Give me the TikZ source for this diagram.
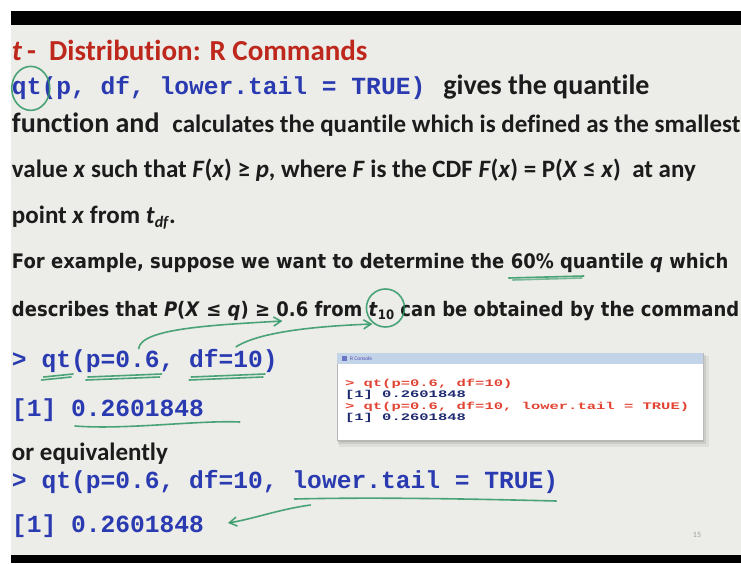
\documentclass[tikz,border=0pt]{standalone}
\usepackage{fontspec}
\setmainfont{Carlito}[Ligatures=CommonOff]
\newfontfamily\exfont[FakeStretch=0.9]{DejaVu Sans}
\newfontfamily\codefont{Liberation Mono}
\newfontfamily\consfont[FakeStretch=1.55]{Liberation Mono}
\usepackage{xcolor}
\usepackage{tikz}
\usetikzlibrary{arrows.meta,positioning}

\definecolor{slidebg}{RGB}{236,236,232}
\definecolor{titlered}{RGB}{190,40,28}
\definecolor{codeblue}{RGB}{42,58,176}
\definecolor{inkblack}{RGB}{28,28,28}
\definecolor{pengreen}{RGB}{46,150,100}
\definecolor{consred}{RGB}{226,68,52}
\definecolor{consnavy}{RGB}{32,42,112}
\definecolor{consbar}{RGB}{196,212,232}

\newcommand{\lowidx}[2][16]{\raisebox{-0.35ex}{\fontsize{#1}{#1}\selectfont #2}}
\newcommand{\exgap}{6.3pt}
\newcommand{\cw}{14.76pt}

\begin{document}
\begin{tikzpicture}[
    x=1pt, y=-1pt,
    txt/.style={anchor=base west, inner sep=0pt, outer sep=0pt, text=inkblack, font=\bfseries\fontsize{25}{25}\selectfont},
    big/.style={txt, font=\bfseries\fontsize{28}{28}\selectfont},
    ex/.style={txt, font=\exfont\bfseries\fontsize{20}{20}\selectfont},
    code/.style={anchor=base west, inner sep=0pt, outer sep=0pt, text=codeblue, font=\codefont\bfseries\fontsize{24.6}{24.6}\selectfont},
    cons/.style={anchor=base west, inner sep=0pt, outer sep=0pt, font=\consfont\bfseries\fontsize{10}{10}\selectfont},
    ink/.style={draw=pengreen, line width=1.6pt, line cap=round, opacity=0.85},
    inkarrow/.style={ink, -{Straight Barb[length=2.6mm, width=3.2mm]}}
]
\useasboundingbox (0,0) rectangle (741,563);
\fill[white] (0,0) rectangle (741,563);
\fill[slidebg] (11,11) rectangle (741,563);
\fill[black] (11,11) rectangle (741,25);
\fill[black] (11,555) rectangle (741,563);

% title and syntax
\node[big, text=titlered, font=\bfseries\fontsize{29}{29}\selectfont] (title) at (12,60) {\textit{t}\,-\ \ Distribution: R Commands};
\node[code] (cmdqt) at (12,94) {qt};
\node[code] (cmdargs) at (cmdqt.base east) {(p, df, lower.tail = TRUE)};
\node[big] (gives) at ([xshift=18pt]cmdargs.base east) {gives the quantile};

% definition
\node[big] (funcand) at (12,132) {function and};
\node[txt] (calc) at ([xshift=13pt]funcand.base east) {calculates the quantile which is defined as the smallest};
\node[txt] (valueline) at (12,177) {value \textit{x} such that \textit{F}(\textit{x}) ≥ \textit{p}, where \textit{F} is the CDF \textit{F}(\textit{x}) = P(\textit{X} ≤ \textit{x})\ \ at any};
\node[txt] (pointline) at (12,223) {point \textit{x} from \textit{t}\lowidx[16]{\textit{df}}.};

% example
\node[ex] (exA) at (12,268) {For example, suppose we want to determine the};
\node[ex] (sixty) at ([xshift=\exgap]exA.base east) {60\%};
\node[ex] (exB) at (sixty.base east) {\ quantile \textit{q} which};
\node[ex] (descA) at (12,316) {describes that \textit{P}(\textit{X} ≤ \textit{q}) ≥};
\node[ex] (sixval) at ([xshift=\exgap]descA.base east) {0.6};
\node[ex] (fromw) at (sixval.base east) {\ from};
\node[ex] (tten) at ([xshift=\exgap]fromw.base east) {\textit{t}\lowidx[13]{10}};
\node[ex] (descB) at (tten.base east) {\ can be obtained by the command};

% R commands
\node[code] (c1gt) at (12,367) {>};
\node[code] (c1qt) at ([xshift=\cw]c1gt.base east) {qt};
\node[code] (c1b) at (c1qt.base east) {(};
\node[code] (c1p) at (c1b.base east) {p=0.6};
\node[code] (c1c) at (c1p.base east) {,};
\node[code] (c1df) at ([xshift=\cw]c1c.base east) {df=10};
\node[code] (c1d) at (c1df.base east) {)};
\node[code] (resone) at (12,416) {[1] 0.2601848};
\node[txt] (equiv) at (12,460) {or equivalently};
\node[code] (c2a) at (12,488) {> qt(p=0.6, df=10,};
\node[code] (c2lt) at ([xshift=\cw]c2a.base east) {lower.tail = TRUE)};
\node[code] (restwo) at (12,532) {[1] 0.2601848};
\node[anchor=base, inner sep=0pt, text=gray!75, font=\fontsize{8}{8}\selectfont] (pgno) at (697,537) {15};

% R console screenshot
\fill[black, opacity=0.06] (339,356) rectangle (709,447);
\fill[black, opacity=0.08] (338,355) rectangle (706,444);
\fill[black, opacity=0.10] (338,354) rectangle (704,442);
\node[draw=gray!55, fill=white, minimum width=366pt, minimum height=87pt, inner sep=0pt, anchor=north west] (console) at (337,353) {};
\node[fill=consbar, minimum width=366pt, minimum height=11pt, inner sep=0pt, anchor=north west] (conbar) at (console.north west) {};
\fill[codeblue!70] ([shift={(5,3)}]conbar.north west) rectangle +(5,5);
\node[anchor=west, inner sep=0pt, text=gray!60!blue, font=\fontsize{5.5}{5.5}\selectfont] (contitle) at ([xshift=13pt]conbar.west) {R Console};
\node[cons, text=consred] (conA) at (345,386) {> qt(p=0.6, df=10)};
\node[cons, text=consnavy] (conB) at (345,397.5) {[1] 0.2601848};
\node[cons, text=consred] (conC) at (345,409) {> qt(p=0.6, df=10, lower.tail = TRUE)};
\node[cons, text=consnavy] (conD) at (345,420.5) {[1] 0.2601848};

% pen marks
\draw[ink] ([xshift=4pt]cmdqt.center) ellipse [x radius=19, y radius=22];
\draw[ink] ([shift={(-2,10)}]sixty.base west) -- ([shift={(30,8)}]sixty.base east);
\draw[ink, opacity=0.6] ([shift={(2,12)}]sixty.base west) -- ([shift={(28,10)}]sixty.base east);
\draw[ink] ([shift={(4,-3)}]tten.center) circle [radius=19];
\foreach \w in {c1qt,c1p,c1df} {
  \draw[ink] ([shift={(2,10)}]\w.base west) -- ([shift={(2,7)}]\w.base east);
  \draw[ink] ([shift={(0,13)}]\w.base west) -- ([shift={(0,10)}]\w.base east);
}
\coordinate (ptail) at ([shift={(16,-2)}]c1p.north);
\coordinate (phead) at ([shift={(6,5)}]sixval.base west);
\draw[inkarrow] (ptail) .. controls +(2,-20) and +(-70,4) .. (phead);
\coordinate (dftail) at ([shift={(10,-2)}]c1df.north);
\coordinate (thead) at ([shift={(-9,13)}]tten.center);
\draw[inkarrow] (dftail) .. controls +(25,-16) and +(-50,2) .. (thead);
\draw[ink] ([shift={(63,10)}]resone.base west) .. controls +(50,4) and +(-40,-2) .. ([shift={(36,6)}]resone.base east);
\draw[ink] ([shift={(2,11)}]c2lt.base west) .. controls +(80,-2) and +(-80,-2) .. ([shift={(-2,13)}]c2lt.base east);
\coordinate (lttail) at ([shift={(18,17)}]c2lt.base west);
\coordinate (rhead) at ([shift={(24,-9)}]restwo.base east);
\draw[inkarrow] (lttail) .. controls +(-30,4) and +(25,-4) .. (rhead);
\end{tikzpicture}
\end{document}
